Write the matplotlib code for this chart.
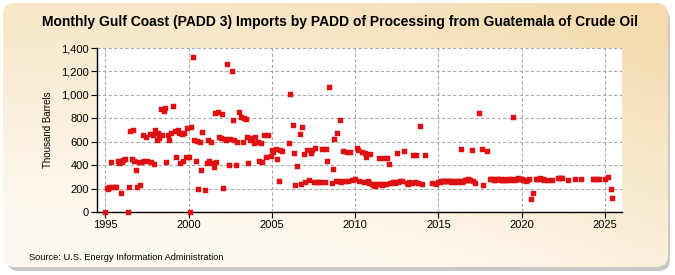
import matplotlib
matplotlib.use("Agg")
import matplotlib.pyplot as plt
import numpy as np
from matplotlib.patches import FancyBboxPatch
from matplotlib.ticker import FuncFormatter

# ---------------------------------------------------------------------------
# Data (thousand barrels)
# ---------------------------------------------------------------------------
months = [
    "1995-01", "1995-02", "1995-03", "1995-04", "1995-05", "1995-06", "1995-08", "1995-09", "1995-10", "1995-11", "1995-12",
    "1996-01", "1996-02", "1996-03", "1996-05", "1996-06", "1996-07", "1996-08", "1996-09", "1996-10", "1996-11", "1996-12",
    "1997-01", "1997-02", "1997-03", "1997-04", "1997-05", "1997-06", "1997-07", "1997-09", "1997-10", "1997-11", "1997-12",
    "1998-01", "1998-02", "1998-03", "1998-04", "1998-05", "1998-06", "1998-07", "1998-08", "1998-09", "1998-10", "1998-11", "1998-12",
    "1999-02", "1999-03", "1999-04", "1999-05", "1999-06", "1999-07", "1999-08", "1999-09", "1999-10", "1999-11", "1999-12",
    "2000-01", "2000-02", "2000-03", "2000-04", "2000-05", "2000-06", "2000-07", "2000-08", "2000-09", "2000-10", "2000-11",
    "2001-01", "2001-02", "2001-03", "2001-04", "2001-05", "2001-06", "2001-07", "2001-08", "2001-09", "2001-10", "2001-11", "2001-12",
    "2002-01", "2002-02", "2002-03", "2002-04", "2002-05", "2002-06", "2002-07", "2002-08", "2002-09", "2002-10", "2002-11", "2002-12",
    "2003-01", "2003-03", "2003-04", "2003-05", "2003-06", "2003-07", "2003-08", "2003-09", "2003-11", "2003-12",
    "2004-01", "2004-03", "2004-04", "2004-05", "2004-06", "2004-07", "2004-09", "2004-10", "2004-12",
    "2005-01", "2005-02", "2005-04", "2005-05", "2005-06", "2005-07", "2005-08",
    "2006-01", "2006-02", "2006-04", "2006-05", "2006-06", "2006-07", "2006-09", "2006-10", "2006-11", "2006-12",
    "2007-01", "2007-02", "2007-04", "2007-05", "2007-06", "2007-07", "2007-08", "2007-09", "2007-11", "2007-12",
    "2008-01", "2008-03", "2008-04", "2008-05", "2008-06", "2008-08", "2008-09", "2008-10", "2008-11", "2008-12",
    "2009-01", "2009-02", "2009-03", "2009-04", "2009-05", "2009-07", "2009-08", "2009-09", "2009-11",
    "2010-01", "2010-02", "2010-03", "2010-04", "2010-06", "2010-07", "2010-08", "2010-09", "2010-10", "2010-11", "2010-12",
    "2011-01", "2011-02", "2011-03", "2011-04", "2011-05", "2011-06", "2011-07", "2011-08", "2011-09", "2011-10", "2011-11", "2011-12",
    "2012-01", "2012-02", "2012-04", "2012-05", "2012-06", "2012-07", "2012-08", "2012-09", "2012-11", "2012-12",
    "2013-02", "2013-03", "2013-04", "2013-06", "2013-07", "2013-08", "2013-09", "2013-10", "2013-12",
    "2014-01", "2014-03", "2014-08", "2014-11",
    "2015-01", "2015-02", "2015-03", "2015-04", "2015-05", "2015-06", "2015-07", "2015-08", "2015-09", "2015-10", "2015-11", "2015-12",
    "2016-01", "2016-02", "2016-03", "2016-04", "2016-05", "2016-06", "2016-07", "2016-08", "2016-09", "2016-10", "2016-11", "2016-12",
    "2017-01", "2017-02", "2017-03", "2017-06", "2017-08", "2017-09", "2017-12",
    "2018-02", "2018-03", "2018-04", "2018-05", "2018-06", "2018-07", "2018-08", "2018-09", "2018-10", "2018-11", "2018-12",
    "2019-01", "2019-02", "2019-03", "2019-04", "2019-05", "2019-06", "2019-07", "2019-08", "2019-09", "2019-10", "2019-11", "2019-12",
    "2020-01", "2020-02", "2020-03", "2020-04", "2020-05", "2020-06", "2020-08", "2020-09", "2020-11", "2020-12",
    "2021-02", "2021-03", "2021-04", "2021-05", "2021-08", "2021-11",
    "2022-03", "2022-04", "2022-05", "2022-06", "2022-10",
    "2023-03", "2023-08",
    "2024-04", "2024-05", "2024-07", "2024-09",
    "2025-01", "2025-03", "2025-05", "2025-06",
]

kbbl = [
    0, 205, 200, 216, 430, 216, 216, 216, 435, 415, 165,
    430, 444, 452, 0, 216, 694, 450, 700, 438, 359, 216,
    430, 230, 430, 657, 438, 637, 438, 663, 430, 657, 410,
    700, 615, 672, 630, 880, 657, 865, 890, 430, 657, 615, 672,
    908, 694, 467, 700, 672, 421, 663, 438, 672, 467, 715,
    467, 0, 723, 1320, 615, 438, 606, 196, 600, 359, 686,
    188, 421, 615, 438, 595, 415, 381, 848, 430, 857, 643, 629,
    837, 208, 620, 615, 1264, 401, 620, 1204, 785, 615, 401, 600,
    857, 814, 600, 806, 794, 643, 415, 615, 629, 592,
    643, 600, 438, 592, 430, 657, 472, 657, 478,
    530, 515, 535, 450, 267, 530, 524,
    592, 1007, 743, 501, 233, 393, 666, 239, 723, 495,
    256, 530, 273, 507, 530, 259, 544, 259, 259, 256,
    535, 256, 541, 438, 1070, 250, 364, 620, 267, 677,
    267, 785, 259, 521, 262, 515, 265, 515, 273,
    279, 544, 530, 267, 515, 259, 501, 472, 267, 250, 495,
    239, 230, 222, 235, 239, 458, 239, 228, 239, 458, 235, 458,
    410, 250, 259, 255, 250, 507, 259, 267, 267, 524,
    250, 239, 255, 245, 487, 255, 487, 250, 737,
    239, 487, 250, 239,
    255, 259, 262, 265, 262, 265, 265, 262, 265, 260, 262, 259,
    262, 259, 265, 262, 541, 259, 268, 273, 275, 279, 275, 273,
    530, 264, 250, 848, 538, 230, 524,
    279, 285, 279, 275, 273, 279, 282, 279, 276, 273, 276,
    279, 273, 276, 279, 282, 273, 814, 276, 279, 293, 282, 279,
    279, 273, 270, 264, 276, 279, 111, 160, 279, 285,
    290, 279, 282, 273, 273, 273,
    293, 293, 290, 293, 273,
    279, 279,
    279, 279, 279, 279,
    279, 296, 200, 122,
]

x_ticks = [1995, 2000, 2005, 2010, 2015, 2020, 2025]
y_ticks = [0, 200, 400, 600, 800, 1000, 1200, 1400]

TITLE = "Monthly Gulf Coast (PADD 3) Imports by PADD of Processing from Guatemala of Crude Oil"
SOURCE = "Source: U.S. Energy Information Administration"

# ---------------------------------------------------------------------------
# Helpers
# ---------------------------------------------------------------------------

def to_decimal_year(stamp):
    year, month = stamp.split("-")
    return int(year) + (int(month) - 1) / 12.0


plt.rcParams["font.family"] = ["Liberation Sans", "DejaVu Sans"]

W, H = 675, 275
fig = plt.figure(figsize=(W / 100, H / 100), dpi=100)
fig.patch.set_facecolor("white")

# ---------------------------------------------------------------------------
# Background panel: shadow + beige gradient with rounded corners
# ---------------------------------------------------------------------------
bg = fig.add_axes([0, 0, 1, 1])
bg.set_xlim(0, W)
bg.set_ylim(H, 0)
bg.axis("off")

shadow = FancyBboxPatch((7, 8), W - 12, H - 12, boxstyle="round,pad=0,rounding_size=12",
                        facecolor="#C8C8C8", edgecolor="none")
bg.add_patch(shadow)

panel = FancyBboxPatch((3, 3), W - 10, H - 11, boxstyle="round,pad=0,rounding_size=12",
                       facecolor="none", edgecolor="none")
bg.add_patch(panel)

gx, gy = np.meshgrid(np.linspace(0, 1, 200), np.linspace(0, 1, 100))
t = np.clip(0.75 * (1 - gy) + 0.45 * gx ** 2 - 0.15, 0, 1)
light = np.array([254, 249, 240]) / 255
dark = np.array([244, 218, 172]) / 255
grad = light[None, None, :] * (1 - t[..., None]) + dark[None, None, :] * t[..., None]
im = bg.imshow(grad, extent=[3, W - 7, H - 8, 3], aspect="auto", zorder=1)
im.set_clip_path(panel)

bg.text(W / 2 + 2, 22, TITLE, ha="center", va="center", fontsize=10, fontweight="bold")
bg.text(29, 257, SOURCE, ha="left", va="center", fontsize=6.7)

# ---------------------------------------------------------------------------
# Plot
# ---------------------------------------------------------------------------
ax = fig.add_axes([97 / W, 1 - 212 / H, (621.7 - 97) / W, (212 - 48) / H])
ax.set_facecolor("white")

xs = [to_decimal_year(m) for m in months]
ax.plot(xs, kbbl, linestyle="none", marker="s", markersize=3.6,
        markerfacecolor="#DD1111", markeredgecolor="#DD1111", markeredgewidth=0.3,
        clip_on=False, zorder=3)

ax.set_xlim(1994.5, 2026.0)
ax.set_ylim(0, 1400)
ax.set_xticks(x_ticks)
ax.set_yticks(y_ticks)
ax.yaxis.set_major_formatter(FuncFormatter(lambda v, _: f"{int(v):,}"))

ax.grid(True, color="#AAAAAA", linestyle=(0, (3, 2)), linewidth=0.8)
ax.set_axisbelow(True)

for side in ("top", "right"):
    ax.spines[side].set_visible(False)
for side in ("left", "bottom"):
    ax.spines[side].set_color("black")
    ax.spines[side].set_linewidth(1.0)

ax.tick_params(axis="both", labelsize=8, length=4, width=0.8, color="black", pad=2)
ax.set_ylabel("Thousand Barrels", fontsize=7, labelpad=6)

fig.savefig("out.png", dpi=100)
plt.close(fig)
